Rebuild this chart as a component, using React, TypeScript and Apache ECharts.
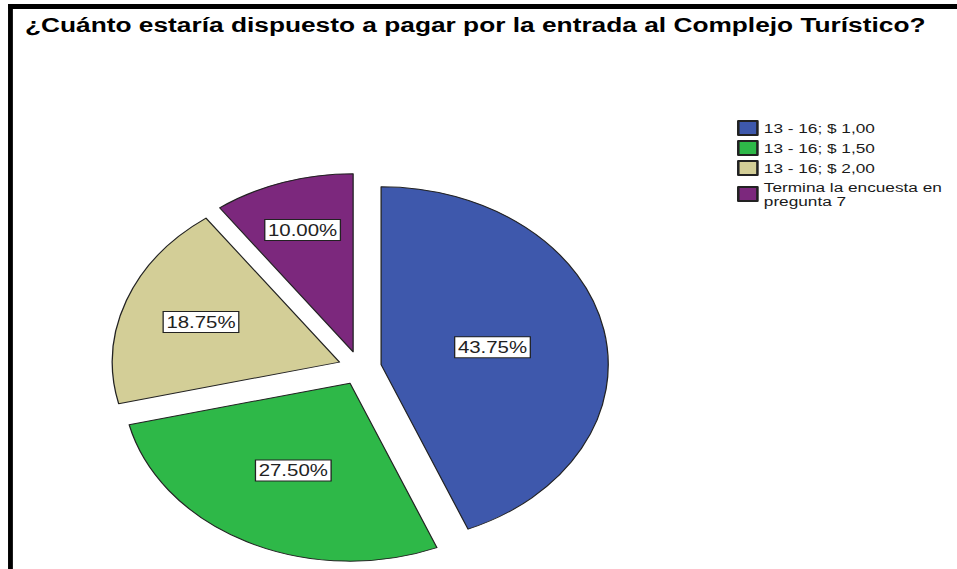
import React, { useEffect, useRef } from "react";
import * as echarts from "echarts";

// ---- Data ----
const chartTitle = "¿Cuánto estaría dispuesto a pagar por la entrada al Complejo Turístico?";
const categories = [
  "13 - 16; $ 1,00",
  "13 - 16; $ 1,50",
  "13 - 16; $ 2,00",
  "Termina la encuesta en pregunta 7",
];
const percentages = [43.75, 27.5, 18.75, 10.0];

// ---- Style / layout ----
const colors = ["#3e58ac", "#2eb848", "#d3ce97", "#7c287d"];
const labelRadius = [0.5, 0.55, 0.65, 0.72]; // fraction of radius where each label sits

const W = 957;
const H = 569;
const SX = 1.276; // the reference is stretched horizontally
const INNER_W = Math.round(W / SX);
const CX = 282;
const CY = 368;
const R = 178;
const OFFSET = 17;
const FONT = "Liberation Sans, Arial, sans-serif";

function wrapLegend(name: string): string {
  const max = 22;
  if (name.length <= max) return name;
  const cut = name.lastIndexOf(" ", max);
  return cut > 0 ? name.slice(0, cut) + "\n" + name.slice(cut + 1) : name;
}

export default function App() {
  const ref = useRef<HTMLDivElement>(null);

  useEffect(() => {
    if (!ref.current) return;
    const chart = echarts.init(ref.current, undefined, { renderer: "svg" });
    const total = percentages.reduce((a, b) => a + b, 0);

    chart.setOption({
      animation: false,
      backgroundColor: "#ffffff",
      title: {
        text: chartTitle,
        left: 19.6,
        top: 15,
        padding: 0,
        textStyle: {
          fontFamily: FONT,
          fontWeight: "bold",
          fontSize: 20.6,
          color: "#000000",
        },
      },
      legend: {
        orient: "vertical",
        left: 577.6,
        top: 120,
        padding: 0,
        itemWidth: 15,
        itemHeight: 14,
        itemGap: 4,
        icon: "rect",
        selectedMode: false,
        formatter: (name: string) => wrapLegend(name),
        textStyle: {
          fontFamily: FONT,
          fontSize: 13.5,
          lineHeight: 14,
          color: "#1a1a1a",
        },
        data: categories,
      },
      graphic: [
        {
          type: "rect",
          shape: { x: 6.3, y: 4, width: INNER_W, height: 5 },
          style: { fill: "#000000" },
          silent: true,
        },
        {
          type: "rect",
          shape: { x: 6.3, y: 4, width: 3.8, height: H },
          style: { fill: "#000000" },
          silent: true,
        },
      ],
      series: [
        {
          type: "pie",
          center: [CX, CY],
          radius: [0, R],
          startAngle: 90,
          clockwise: true,
          selectedMode: "multiple",
          selectedOffset: OFFSET,
          avoidLabelOverlap: false,
          emphasis: { disabled: true },
          itemStyle: { borderColor: "#222222", borderWidth: 1 },
          label: { show: false },
          labelLine: { show: false },
          data: categories.map((name, i) => ({
            name,
            value: percentages[i],
            selected: true,
            itemStyle: { color: colors[i] },
          })),
        },
        {
          type: "custom",
          coordinateSystem: "none",
          silent: true,
          z: 10,
          data: percentages.map((v) => [v]),
          renderItem: (params: any, api: any) => {
            const i = params.dataIndex;
            const v = api.value(0);
            let cum = 0;
            for (let j = 0; j < i; j++) cum += percentages[j];
            const theta = ((cum + v / 2) / total) * Math.PI * 2;
            const d = OFFSET + labelRadius[i] * R;
            return {
              type: "text",
              x: CX + d * Math.sin(theta),
              y: CY - d * Math.cos(theta),
              style: {
                text: `${Number(v).toFixed(2)}%`,
                fill: "#222222",
                fontFamily: FONT,
                fontSize: 16,
                lineHeight: 16,
                align: "center",
                verticalAlign: "middle",
                backgroundColor: "#ffffff",
                borderColor: "#222222",
                borderWidth: 1,
                padding: [2, 2, 2, 2],
              },
            };
          },
        },
      ],
    });

    return () => chart.dispose();
  }, []);

  return (
    <div
      style={{
        position: "fixed",
        left: 0,
        top: 0,
        width: W,
        height: H,
        overflow: "hidden",
        background: "#ffffff",
      }}
    >
      <div
        ref={ref}
        style={{
          width: INNER_W,
          height: H,
          transform: `scaleX(${SX})`,
          transformOrigin: "0 0",
        }}
      />
    </div>
  );
}
